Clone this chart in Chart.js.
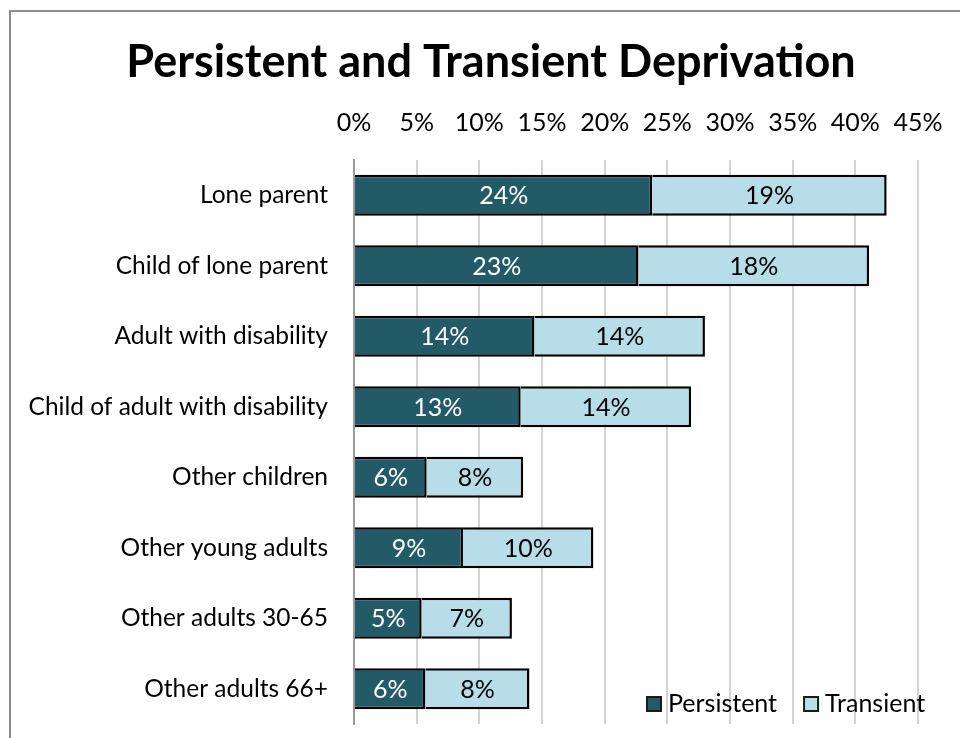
<!DOCTYPE html>
<html>
<head>
<meta charset="utf-8">
<script src="https://cdn.jsdelivr.net/npm/chart.js@4.4.1/dist/chart.umd.min.js"></script>
<style>
  html, body { margin: 0; padding: 0; background: #fff; }
  #wrap { position: relative; width: 960px; height: 738px; overflow: hidden; }
  #frame { position: absolute; left: 9px; top: 10px; width: 1000px; height: 800px;
           border: 2px solid #8c8c8c; box-sizing: border-box; }
  #chart { position: absolute; left: 0; top: 0; }
</style>
</head>
<body>
<div id="wrap">
  <div id="frame"></div>
  <canvas id="chart" width="960" height="738"></canvas>
</div>
<script>
const categories = [
  "Lone parent",
  "Child of lone parent",
  "Adult with disability",
  "Child of adult with disability",
  "Other children",
  "Other young adults",
  "Other adults 30-65",
  "Other adults 66+"
];
const persistent = [23.8, 22.7, 14.4, 13.3, 5.8, 8.7, 5.4, 5.7];
const transient = [18.7, 18.4, 13.6, 13.6, 7.7, 10.4, 7.2, 8.3];
const seriesNames = ["Persistent", "Transient"];
const seriesColors = ["#235a67", "#b7dde8"];
const chartTitle = "Persistent and Transient Deprivation";
const xMax = 45;
const xStep = 5;

const FONT = "Lato";

// title drawn by hand so it can sit off-centre like the original
const titlePlugin = {
  id: "titlePlugin",
  afterDraw(chart) {
    const ctx = chart.ctx;
    ctx.save();
    ctx.font = "bold 45px " + FONT;
    ctx.fillStyle = "#000";
    ctx.textAlign = "center";
    ctx.textBaseline = "alphabetic";
    ctx.fillText(chartTitle, 491, 77);
    ctx.restore();
  }
};

// value labels inside each bar segment
const barLabels = {
  id: "barLabels",
  afterDatasetsDraw(chart) {
    const ctx = chart.ctx;
    ctx.save();
    ctx.font = "25px " + FONT;
    ctx.textAlign = "center";
    ctx.textBaseline = "middle";
    chart.data.datasets.forEach((ds, i) => {
      const meta = chart.getDatasetMeta(i);
      ctx.fillStyle = i === 0 ? "#ffffff" : "#000000";
      meta.data.forEach((bar, j) => {
        const x = (bar.x + bar.base) / 2;
        ctx.fillText(Math.round(ds.data[j]) + "%", x, bar.y + 1);
      });
    });
    ctx.restore();
  }
};

// legend sits inside the plot, bottom right
const cornerLegend = {
  id: "cornerLegend",
  afterDraw(chart) {
    const ctx = chart.ctx;
    ctx.save();
    ctx.font = "25px " + FONT;
    ctx.textBaseline = "middle";
    let x = 647;
    const y = 704;
    chart.data.datasets.forEach((ds, i) => {
      ctx.fillStyle = ds.backgroundColor;
      ctx.fillRect(x, y - 7, 14, 14);
      ctx.lineWidth = 2;
      ctx.strokeStyle = "#1a1a1a";
      ctx.strokeRect(x, y - 7, 14, 14);
      ctx.fillStyle = "#000";
      ctx.fillText(ds.label, x + 21, y);
      x += 21 + ctx.measureText(ds.label).width + 27;
    });
    ctx.restore();
  }
};

new Chart(document.getElementById("chart"), {
  type: "bar",
  data: {
    labels: categories,
    datasets: [
      {
        label: seriesNames[0],
        data: persistent,
        backgroundColor: seriesColors[0],
        borderColor: "#000",
        borderWidth: 2.5
      },
      {
        label: seriesNames[1],
        data: transient,
        backgroundColor: seriesColors[1],
        borderColor: "#000",
        borderWidth: 2.5
      }
    ]
  },
  options: {
    indexAxis: "y",
    responsive: false,
    animation: false,
    layout: { padding: { left: 0, right: 42, top: 98, bottom: 14 } },
    datasets: {
      bar: { categoryPercentage: 1, barPercentage: 0.58 }
    },
    scales: {
      x: {
        position: "top",
        stacked: true,
        min: 0,
        max: xMax,
        afterFit(scale) {
          scale.height = 62;
          scale.paddingLeft = 0;
          scale.paddingRight = 0;
        },
        ticks: {
          stepSize: xStep,
          padding: 22,
          color: "#000",
          font: { family: FONT, size: 25 },
          callback: v => v + "%"
        },
        grid: {
          drawTicks: false,
          lineWidth: 2,
          color: c => (c.tick && c.tick.value === 0 ? "rgba(0,0,0,0)" : "#d3d3d3")
        },
        border: { display: false }
      },
      y: {
        stacked: true,
        afterFit(scale) {
          scale.width = 354;
          scale.paddingTop = 0;
          scale.paddingBottom = 0;
        },
        ticks: {
          padding: 26,
          color: "#000",
          font: { family: FONT, size: 24.5 }
        },
        grid: { display: false, drawTicks: false },
        border: { display: true, color: "#9a9a9a", width: 2 }
      }
    },
    plugins: {
      legend: { display: false },
      tooltip: { enabled: false },
      title: { display: false }
    }
  },
  plugins: [barLabels, cornerLegend, titlePlugin]
});
</script>
</body>
</html>
